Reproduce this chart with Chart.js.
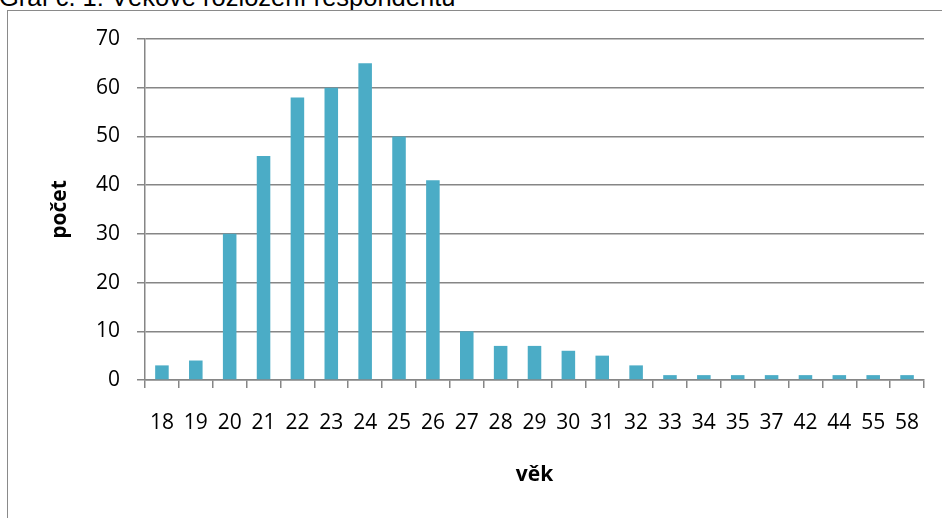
<!DOCTYPE html>
<html>
<head>
<meta charset="utf-8">
<script src="https://cdn.jsdelivr.net/npm/chart.js@4/dist/chart.umd.min.js"></script>
<style>
  html, body { margin: 0; padding: 0; background: #fff; overflow: hidden; }
  #page { position: relative; width: 942px; height: 518px; overflow: hidden; }
  #nadpis { position: absolute; left: -1px; top: -15px; font: 25.5px/25.5px "Liberation Sans", Arial, sans-serif; color: #000; white-space: nowrap; }
  #ramecek { position: absolute; left: 7px; top: 10px; width: 1000px; height: 600px; border: 1.5px solid #8a8a8a; }
  #graf { position: absolute; left: 0; top: 0; }
</style>
</head>
<body>
<div id="page">
  <div id="nadpis">Graf č. 1: Věkové rozložení respondentů</div>
  <div id="ramecek"></div>
  <canvas id="graf" width="942" height="518"></canvas>
</div>
<script>
// data z grafu
const vek = ['18','19','20','21','22','23','24','25','26','27','28','29','30','31','32','33','34','35','37','42','44','55','58'];
const pocet = [3,4,30,46,58,60,65,50,41,10,7,7,6,5,3,1,1,1,1,1,1,1,1];
const osaY = [0,10,20,30,40,50,60,70];

const seda = '#868686';
const pismo = '"Open Sans", "Liberation Sans", sans-serif';

const config = {
  type: 'bar',
  data: {
    labels: vek,
    datasets: [{
      label: 'počet',
      data: pocet,
      backgroundColor: '#4bacc6',
      borderWidth: 0,
      barPercentage: 0.4,
      categoryPercentage: 1.0
    }]
  },
  options: {
    responsive: false,
    animation: false,
    layout: { padding: { top: 39, right: 18, left: 0, bottom: 0 } },
    plugins: { legend: { display: false }, tooltip: { enabled: false } },
    scales: {
      x: {
        grid: { display: true, drawOnChartArea: false, drawTicks: true, tickLength: 8, color: seda, lineWidth: 1.5, offset: true },
        border: { color: seda, width: 1.5 },
        ticks: { color: '#000', font: { family: pismo, size: 21 }, padding: 22, maxRotation: 0, autoSkip: false },
        title: { display: true, text: 'věk', color: '#000', font: { family: pismo, size: 21, weight: 'bold' }, padding: { top: 0, bottom: 30 } },
        afterFit: function(scale) { scale.height = 138; }
      },
      y: {
        min: 0,
        max: 70,
        afterBuildTicks: function(scale) { scale.ticks = osaY.map(v => ({ value: v })); },
        grid: { color: seda, lineWidth: 1.5, tickLength: 8, drawTicks: true },
        border: { color: seda, width: 1.5 },
        ticks: { color: '#000', font: { family: pismo, size: 21 }, padding: 17 },
        title: { display: true, text: 'počet', color: '#000', font: { family: pismo, size: 21, weight: 'bold' }, padding: { top: 47, bottom: 0 } },
        afterFit: function(scale) { scale.width = 145; }
      }
    }
  }
};

let graf = new Chart(document.getElementById('graf'), config);
</script>
</body>
</html>
